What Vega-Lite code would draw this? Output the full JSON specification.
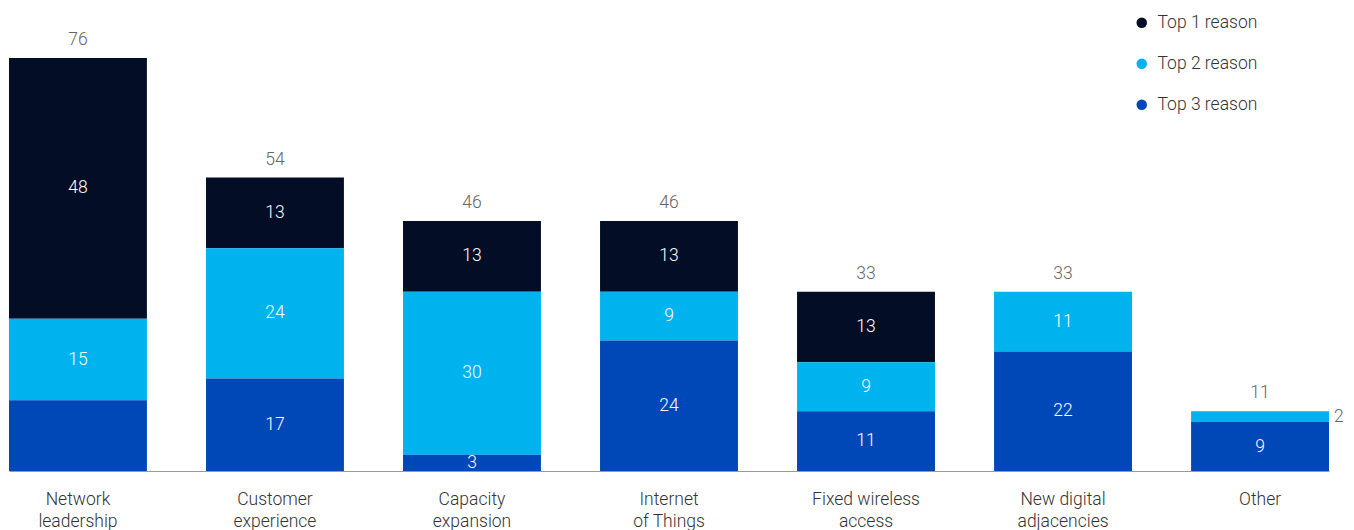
{
  "$schema": "https://vega.github.io/schema/vega-lite/v6.json",
  "width": 1320,
  "height": 413,
  "autosize": {"type": "none"},
  "padding": {"left": 9, "top": 58, "right": 25, "bottom": 59},
  "config": {"view": {"stroke": null}, "font": "Roboto", "text": {"fontWeight": 300}, "axis": {"labelFontWeight": 300}, "legend": {"labelFontWeight": 300}},
  "data": {
    "values": [
      {"category": "Network leadership", "reason": "Top 1 reason", "value": 48},
      {"category": "Network leadership", "reason": "Top 2 reason", "value": 15},
      {"category": "Network leadership", "reason": "Top 3 reason", "value": 13},
      {"category": "Customer experience", "reason": "Top 1 reason", "value": 13},
      {"category": "Customer experience", "reason": "Top 2 reason", "value": 24},
      {"category": "Customer experience", "reason": "Top 3 reason", "value": 17},
      {"category": "Capacity expansion", "reason": "Top 1 reason", "value": 13},
      {"category": "Capacity expansion", "reason": "Top 2 reason", "value": 30},
      {"category": "Capacity expansion", "reason": "Top 3 reason", "value": 3},
      {"category": "Internet of Things", "reason": "Top 1 reason", "value": 13},
      {"category": "Internet of Things", "reason": "Top 2 reason", "value": 9},
      {"category": "Internet of Things", "reason": "Top 3 reason", "value": 24},
      {"category": "Fixed wireless access", "reason": "Top 1 reason", "value": 13},
      {"category": "Fixed wireless access", "reason": "Top 2 reason", "value": 9},
      {"category": "Fixed wireless access", "reason": "Top 3 reason", "value": 11},
      {"category": "New digital adjacencies", "reason": "Top 1 reason", "value": 0},
      {"category": "New digital adjacencies", "reason": "Top 2 reason", "value": 11},
      {"category": "New digital adjacencies", "reason": "Top 3 reason", "value": 22},
      {"category": "Other", "reason": "Top 1 reason", "value": 0},
      {"category": "Other", "reason": "Top 2 reason", "value": 2},
      {"category": "Other", "reason": "Top 3 reason", "value": 9}
    ]
  },
  "transform": [
    {"stack": "value", "groupby": ["category"], "sort": [{"field": "reason", "order": "descending"}], "as": ["y0", "y1"]},
    {"calculate": "(datum.y0 + datum.y1) / 2", "as": "mid"}
  ],
  "encoding": {
    "x": {
      "field": "category",
      "type": "nominal",
      "sort": ["Network leadership", "Customer experience", "Capacity expansion", "Internet of Things", "Fixed wireless access", "New digital adjacencies", "Other"],
      "scale": {"paddingInner": 0.3, "paddingOuter": 0},
      "axis": {
        "title": null,
        "labelAngle": 0,
        "ticks": false,
        "domainColor": "#9a9a9a",
        "domainWidth": 1,
        "labelFontSize": 17.5,
        "labelColor": "#333333",
        "labelPadding": 19,
        "labelLineHeight": 22,
        "labelExpr": "datum.value == 'Internet of Things' ? ['Internet', 'of Things'] : datum.value == 'Fixed wireless access' ? ['Fixed wireless', 'access'] : datum.value == 'New digital adjacencies' ? ['New digital', 'adjacencies'] : split(datum.value, ' ')"
      }
    }
  },
  "layer": [
    {
      "mark": {"type": "bar"},
      "encoding": {
        "y": {"field": "y0", "type": "quantitative", "scale": {"domain": [0, 76], "nice": false}, "axis": null},
        "y2": {"field": "y1"},
        "color": {
          "field": "reason",
          "type": "nominal",
          "scale": {"domain": ["Top 1 reason", "Top 2 reason", "Top 3 reason"], "range": ["#030E26", "#00B2EE", "#0047B7"]},
          "legend": {
            "title": null,
            "orient": "none",
            "legendX": 1124,
            "legendY": -44,
            "symbolType": "circle",
            "symbolSize": 110,
            "symbolStrokeWidth": 0,
            "labelFontSize": 17.5,
            "labelColor": "#333333",
            "rowPadding": 22,
            "labelOffset": 7
          }
        }
      }
    },
    {
      "transform": [{"filter": "datum.value > 2 && !(datum.category == 'Network leadership' && datum.reason == 'Top 3 reason')"}],
      "mark": {"type": "text", "color": "white", "fontSize": 17.5},
      "encoding": {
        "y": {"field": "mid", "type": "quantitative"},
        "text": {"field": "value", "type": "quantitative"}
      }
    },
    {
      "transform": [{"filter": "datum.value > 0 && datum.value <= 2"}],
      "mark": {"type": "text", "color": "#666666", "fontSize": 17.5, "align": "left", "dx": 74},
      "encoding": {
        "y": {"field": "mid", "type": "quantitative"},
        "text": {"field": "value", "type": "quantitative"}
      }
    },
    {
      "transform": [{"aggregate": [{"op": "sum", "field": "value", "as": "total"}], "groupby": ["category"]}],
      "mark": {"type": "text", "color": "#666666", "fontSize": 17.5, "dy": -18},
      "encoding": {
        "y": {"field": "total", "type": "quantitative"},
        "text": {"field": "total", "type": "quantitative"}
      }
    }
  ]
}
